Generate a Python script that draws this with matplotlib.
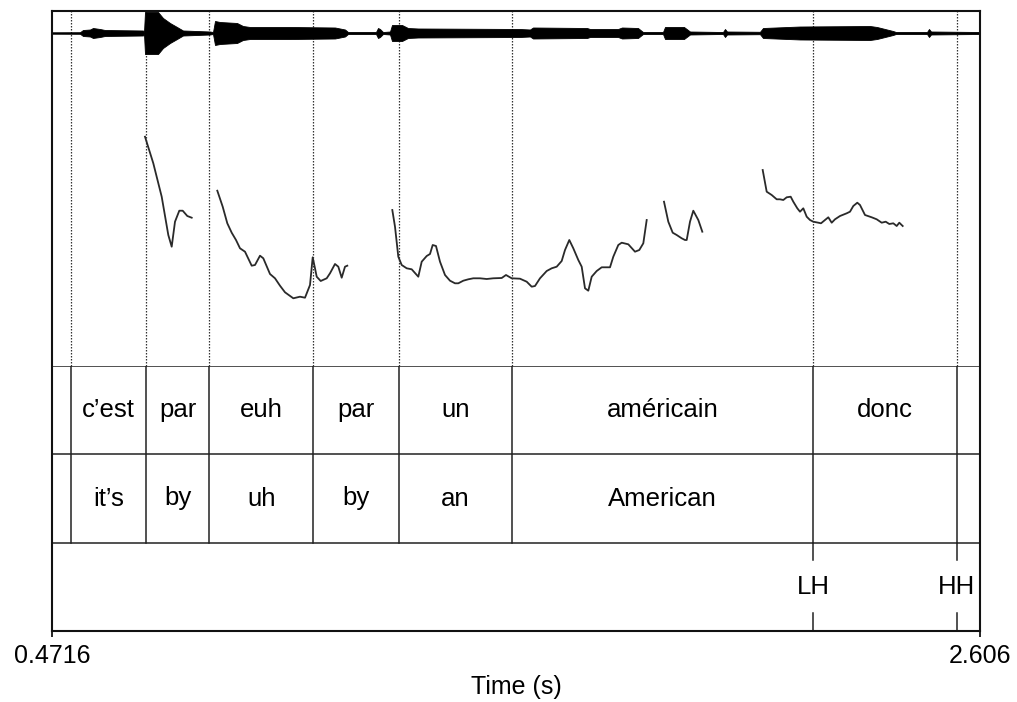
import matplotlib
matplotlib.use("Agg")
import matplotlib.pyplot as plt

plt.rcParams['font.family'] = ['Liberation Sans', 'DejaVu Sans']

# ---------------- data ----------------
T_START, T_END = 0.4716, 2.606
boundaries = [0.5153, 0.6871, 0.8334, 1.0726, 1.2704, 1.5296, 2.2226, 2.5524]
words_fr = ["", "c’est", "par", "euh", "par", "un", "américain", "donc", ""]
words_en = ["", "it’s", "by", "uh", "by", "an", "American", "", ""]
tone_times = [2.2226, 2.5524]
tone_labels = ["LH", "HH"]

# waveform amplitude envelope (time s, amplitude Pa)
env_t = [0.4716, 0.536, 0.5429, 0.559, 0.5659, 0.582, 0.5935, 0.6809, 0.6832, 0.6855,
         0.7154, 0.7269, 0.743, 0.7591, 0.7729, 0.835, 0.8419, 0.8465, 0.858, 0.8971,
         0.9109, 0.927, 1.019, 1.1225, 1.1455, 1.1524, 1.2168, 1.2214, 1.226, 1.2329,
         1.249, 1.2536, 1.2766, 1.2904, 1.3134, 1.548, 1.571, 1.5779, 1.7021, 1.709,
         1.7734, 1.7826, 1.8194, 1.8309, 1.8769, 1.8815, 1.9252, 1.939, 2.0149, 2.0195,
         2.0241, 2.1, 2.1069, 2.192, 2.353, 2.3691, 2.4059, 2.4128, 2.4841, 2.4887,
         2.4933, 2.606]
env_a = [0.032, 0.036, 0.136, 0.159, 0.227, 0.182, 0.136, 0.114, 0.045, 0.955,
         0.955, 0.682, 0.455, 0.273, 0.114, 0.068, 0.045, 0.545, 0.5, 0.455,
         0.318, 0.273, 0.273, 0.25, 0.159, 0.045, 0.045, 0.227, 0.182, 0.045,
         0.068, 0.364, 0.364, 0.227, 0.205, 0.182, 0.159, 0.25, 0.227, 0.182,
         0.182, 0.25, 0.227, 0.045, 0.045, 0.273, 0.273, 0.068, 0.045, 0.182,
         0.068, 0.055, 0.227, 0.295, 0.318, 0.273, 0.091, 0.045, 0.045, 0.182,
         0.068, 0.045]

# pitch contour segments (time s, F0 Hz)
pitch_t1 = [0.6855, 0.7046, 0.7239, 0.7391, 0.7469, 0.7545, 0.7644, 0.7722, 0.7828, 0.7929]
pitch_f1 = [304.3, 277.7, 244.3, 206, 194.3, 219.3, 230.3, 230.3, 225, 223.3]

pitch_t2 = [0.8518, 0.8642, 0.8748, 0.8849, 0.8948, 0.9040, 0.9155, 0.9309, 0.9385, 0.9500,
            0.9576, 0.9730, 0.9845, 0.9960, 1.0075, 1.0266, 1.0420, 1.0535, 1.0650, 1.0712,
            1.0765, 1.0804, 1.0896, 1.1034, 1.1110, 1.1225, 1.1301, 1.1379, 1.1455, 1.1508]
pitch_f2 = [250.3, 234.3, 217.7, 208.3, 201, 192.7, 189.3, 175.3, 176, 185.3,
            182.7, 167, 162.7, 155.3, 148.7, 142.7, 144.3, 143.3, 156, 183.7,
            172.7, 164.3, 160, 162.7, 167.7, 177, 174.3, 163.3, 174.3, 175.3]

pitch_t3 = [1.2543, 1.2605, 1.2681, 1.2759, 1.2874, 1.2989, 1.3141, 1.3219, 1.3334, 1.3410,
            1.3472, 1.3548, 1.3640, 1.3755, 1.3870, 1.3985, 1.4061, 1.4176, 1.4291, 1.4406,
            1.4560, 1.4714, 1.4866, 1.5059, 1.5158, 1.5289, 1.5480, 1.5634, 1.5749, 1.5825,
            1.5940, 1.6094, 1.6209, 1.6324, 1.6439, 1.6515, 1.6614, 1.6706, 1.6821, 1.6899,
            1.6975, 1.7051, 1.7129, 1.7244, 1.7359, 1.7550, 1.7626, 1.7741, 1.7819, 1.7971,
            1.8125, 1.8224, 1.8316, 1.8394]
pitch_f3 = [231, 214.3, 184.3, 176, 172.7, 171.7, 164.3, 179.3, 185, 187,
            196, 195, 179.3, 166, 160.3, 157.7, 157.7, 160.3, 161.7, 162.7,
            162.7, 162, 162.7, 163, 166, 162.7, 162.3, 159.3, 154.3, 155,
            162.7, 170, 172.7, 174.3, 180, 191, 201, 192.7, 181, 174.3,
            152.7, 150.3, 164.3, 170, 173.7, 173.7, 184.3, 196, 198.3, 196.7,
            189.3, 191, 197.7, 221]

pitch_t4 = [1.8792, 1.8891, 1.8992, 1.9084, 1.9199, 1.9275, 1.9314, 1.9390, 1.9466, 1.9581, 1.9673]
pitch_f4 = [239.3, 219.3, 208.3, 206, 202.7, 201, 201, 219.3, 230.3, 221, 209.3]

pitch_t5 = [2.1062, 2.1154, 2.1269, 2.1384, 2.1460, 2.1536, 2.1614, 2.1706, 2.1766, 2.1858,
            2.1920, 2.1996, 2.2074, 2.2150, 2.2226, 2.2341, 2.2403, 2.2495, 2.2571, 2.2649,
            2.2725, 2.2840, 2.2994, 2.3070, 2.3146, 2.3238, 2.3300, 2.3415, 2.3569, 2.3684,
            2.3799, 2.3891, 2.3974, 2.4066, 2.4144, 2.4204, 2.4282]
pitch_f5 = [271, 249.3, 246, 241.7, 241.7, 241, 243.7, 244.3, 239.3, 232.7,
            229.3, 232.7, 224.3, 221, 219.3, 218.3, 217.7, 221, 223.7, 218.3,
            221.7, 225, 227.7, 229.3, 235, 238.3, 236, 226, 223.7, 221.7,
            218.3, 219.3, 217, 217.7, 215, 218.3, 215]

pitch_segments = [(pitch_t1, pitch_f1), (pitch_t2, pitch_f2), (pitch_t3, pitch_f3),
                  (pitch_t4, pitch_f4), (pitch_t5, pitch_f5)]

# ---------------- layout ----------------
W, H = 1017, 702
fig = plt.figure(figsize=(W / 100, H / 100), dpi=100)


def rect(x0, y0, x1, y1):
    return [x0 / W, 1 - y1 / H, (x1 - x0) / W, (y1 - y0) / H]


LEFT, RIGHT, TOP, BOTTOM = 52, 980, 11, 631
TIER_TOP = 366

# pitch + dotted lines
ax_p = fig.add_axes(rect(LEFT, TOP, RIGHT, TIER_TOP))
ax_p.set_xlim(T_START, T_END)
ax_p.set_ylim(75, 430)
ax_p.axis('off')
for b in boundaries:
    ax_p.axvline(b, color='#333333', lw=0.9, ls=(0, (1.2, 1.2)))
for t, f in pitch_segments:
    ax_p.plot(t, f, color='#2a2a2a', lw=1.3, solid_joinstyle='round')

# waveform
ax_s = fig.add_axes(rect(LEFT, TOP, RIGHT, 55))
ax_s.set_xlim(T_START, T_END)
ax_s.set_ylim(-1, 1)
ax_s.axis('off')
ax_s.patch.set_visible(False)
neg = [-a for a in env_a]
ax_s.fill_between(env_t, neg, env_a, color='black', lw=0.6)
ax_s.plot([T_START, T_END], [0, 0], color='black', lw=0.8)

# tiers
ax_t = fig.add_axes(rect(LEFT, TIER_TOP, RIGHT, BOTTOM))
ax_t.set_xlim(T_START, T_END)
ax_t.set_ylim(0, 3)
ax_t.axis('off')
ax_t.patch.set_visible(False)
for y in (3, 2, 1):
    ax_t.axhline(y, color='#222222', lw=1.1)
edges = [T_START] + boundaries + [T_END]
for b in boundaries:
    ax_t.plot([b, b], [1, 3], color='#222222', lw=1.1)
for i in range(len(edges) - 1):
    mid = (edges[i] + edges[i + 1]) / 2
    if words_fr[i]:
        ax_t.text(mid, 2.5, words_fr[i], ha='center', va='center', fontsize=18.5)
    if words_en[i]:
        ax_t.text(mid, 1.5, words_en[i], ha='center', va='center', fontsize=18.5)
for tt, lab in zip(tone_times, tone_labels):
    ax_t.plot([tt, tt], [0.8, 1.0], color='#222222', lw=1.1)
    ax_t.plot([tt, tt], [0.0, 0.2], color='#222222', lw=1.1)
    ax_t.text(tt, 0.5, lab, ha='center', va='center', fontsize=18.5)

# outer frame + axis
ax_f = fig.add_axes(rect(LEFT, TOP, RIGHT, BOTTOM))
ax_f.set_xlim(T_START, T_END)
ax_f.set_ylim(0, 1)
ax_f.patch.set_visible(False)
for s in ax_f.spines.values():
    s.set_linewidth(1.5)
    s.set_color('#111111')
ax_f.set_yticks([])
ax_f.set_xticks([T_START, T_END])
ax_f.set_xticklabels(["0.4716", "2.606"])
ax_f.tick_params(axis='x', direction='out', length=4.5, width=1.2, pad=5, labelsize=18)
fig.text((LEFT + RIGHT) / 2 / W, 1 - 687 / H, "Time (s)", ha='center', va='center', fontsize=18)

fig.savefig("out.png", dpi=100)
